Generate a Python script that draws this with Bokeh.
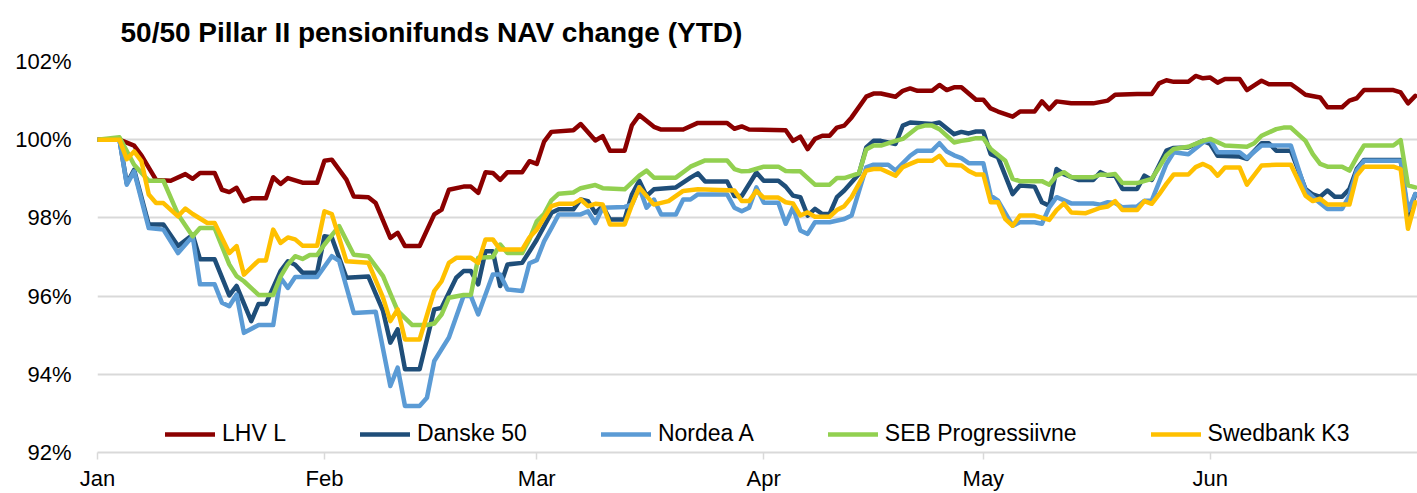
import pandas as pd
from bokeh.plotting import figure
from bokeh.models import (FixedTicker, DatetimeTickFormatter, PrintfTickFormatter,
                          Legend, LegendItem, Range1d)
from bokeh.embed import file_html
from bokeh.resources import INLINE

# ---------------- data (day offset from 2016-01-01, NAV index %) ----------------
lhv_days = [0,3,5,6,8,10,12,13,14,16,17,18,19,20,21,23,24,25,26,28,30,31,32,34,35,37,38,40,41,42,44,46,47,48,50,51,52,53,54,55,56,58,59,60,61,62,65,66,68,69,70,72,73,74,76,77,80,82,86,87,88,89,94,95,96,97,98,99,100,101,102,103,105,106,107,109,110,111,112,114,115,116,117,118,120,121,122,123,125,126,128,129,130,131,133,136,138,139,142,144,145,146,147,149,150,151,152,153,154,156,157,159,160,163,164,165,167,168,170,171,172,173,177,178,179,180]
lhv_vals = [100,100,99.85,99.6,98.97,98.95,99.12,99.0,99.15,99.15,98.72,98.66,98.77,98.43,98.5,98.5,99.04,98.87,99.02,98.9,98.9,99.46,99.49,98.98,98.55,98.53,98.38,97.49,97.62,97.28,97.28,98.09,98.21,98.72,98.8,98.8,98.64,99.17,99.15,98.97,99.17,99.17,99.45,99.38,99.95,100.2,100.24,100.4,99.98,100.09,99.72,99.72,100.37,100.63,100.33,100.26,100.26,100.43,100.43,100.28,100.34,100.26,100.24,99.97,100.08,99.76,100.02,100.1,100.1,100.31,100.36,100.57,101.1,101.18,101.18,101.1,101.25,101.31,101.25,101.25,101.4,101.27,101.34,101.34,101.02,101.02,100.8,100.72,100.59,100.72,100.72,100.98,100.78,100.98,100.93,100.93,101.0,101.15,101.17,101.17,101.44,101.52,101.48,101.48,101.63,101.57,101.59,101.46,101.55,101.55,101.27,101.51,101.42,101.42,101.29,101.15,101.08,100.83,100.83,101.0,101.06,101.27,101.27,101.21,100.93,101.12]

danske_days = [0,3,4,5,7,9,11,13,14,16,18,19,21,22,23,25,26,27,28,30,31,32,34,37,39,40,41,42,44,46,47,49,50,51,52,53,54,55,56,58,59,60,62,63,65,66,67,68,69,70,72,73,74,75,76,79,81,82,83,86,87,88,90,91,93,94,95,96,97,98,99,100,101,102,104,105,106,107,109,110,111,114,115,117,118,119,120,121,122,123,125,126,128,129,130,131,132,134,136,137,138,139,140,142,143,144,146,147,149,151,152,153,156,157,159,160,161,163,165,166,167,168,169,170,171,172,173,178,179,180]
danske_vals = [100,100,98.88,99.23,97.83,97.83,97.28,97.57,96.94,96.94,96.02,96.26,95.36,95.8,95.8,96.64,96.89,96.8,96.6,96.6,97.53,97.5,96.47,96.5,95.62,94.81,95.15,94.13,94.13,95.66,95.7,96.47,96.64,96.64,96.3,97.15,97.15,96.26,96.81,96.85,97.14,97.44,98.13,98.22,98.22,98.47,98.43,98.13,98.3,97.96,97.96,98.6,98.95,98.56,98.73,98.78,99.03,99.14,98.93,98.93,98.56,98.56,99.16,98.95,98.95,98.8,98.57,98.53,98.06,98.23,98.1,98.1,98.53,98.7,99.12,99.8,99.97,99.97,99.89,100.36,100.44,100.4,100.44,100.14,100.2,100.16,100.21,100.21,99.63,99.55,98.61,98.83,98.8,98.4,98.31,99.25,99.12,98.97,98.97,99.17,99.08,99.08,98.74,98.74,99.08,98.97,99.72,99.79,99.8,99.97,99.89,99.59,99.57,99.51,99.91,99.91,99.72,99.72,98.74,98.6,98.54,98.7,98.54,98.54,98.74,99.25,99.48,99.48,98.02,98.61]

nordea_days = [0,3,4,5,7,9,11,13,14,16,17,18,19,20,22,24,25,26,27,30,32,33,35,38,40,41,42,44,45,46,48,50,51,52,54,55,56,58,59,60,61,62,63,66,67,68,69,72,73,74,75,76,77,79,80,81,82,86,87,88,89,90,91,93,94,95,96,97,98,100,102,103,105,106,108,109,111,112,114,115,116,117,118,119,121,122,123,125,126,128,129,130,131,133,136,137,138,139,140,142,143,144,146,147,149,151,152,153,156,157,159,163,165,166,168,170,171,172,173,178,179,180]
nordea_vals = [100,100,98.85,99.19,97.74,97.7,97.1,97.53,96.3,96.3,95.83,95.74,96.04,95.06,95.26,95.26,96.47,96.21,96.49,96.49,97.02,96.9,95.57,95.6,93.7,94.17,93.19,93.19,93.4,94.34,94.94,96.0,96.0,95.53,96.55,96.55,96.17,96.13,96.84,96.92,97.4,97.74,98.09,98.09,98.17,97.87,98.26,98.28,98.34,98.78,98.26,98.47,98.09,98.09,98.47,98.47,98.6,98.6,98.26,98.17,98.26,98.78,98.39,98.39,97.85,98.27,97.68,97.59,97.89,97.89,97.97,98.06,99.29,99.36,99.36,99.21,99.59,99.72,99.72,99.91,99.7,99.6,99.53,99.4,99.4,98.57,98.44,97.8,97.89,97.89,97.85,98.27,98.53,98.37,98.37,98.34,98.4,98.38,98.27,98.29,98.44,98.44,99.38,99.68,99.63,99.93,99.99,99.68,99.68,99.53,99.85,99.85,98.7,98.53,98.23,98.23,98.57,99.21,99.46,99.46,98.19,98.61]

seb_days = [0,3,5,7,9,11,13,14,16,18,19,20,22,24,25,26,27,28,29,30,31,33,35,37,39,41,43,45,46,47,48,50,51,52,54,55,56,58,59,60,61,62,63,65,66,68,69,72,74,75,76,79,81,83,86,87,88,89,91,93,94,95,96,98,100,101,102,104,105,106,107,109,110,112,113,114,115,117,118,119,120,121,122,124,125,126,129,130,131,132,133,136,137,138,139,140,142,144,145,146,147,149,151,152,154,157,158,159,161,162,163,165,166,167,168,170,171,172,173,177,178,179,180]
seb_vals = [100,100.06,99.36,98.95,98.95,98.09,97.53,97.74,97.74,96.81,96.51,96.38,96.03,96.03,96.5,96.81,97.02,96.95,97.05,97.05,97.32,97.79,97.06,97.02,96.51,95.62,95.26,95.26,95.3,95.53,95.96,96.03,96.03,96.98,97.0,97.32,97.1,97.1,97.45,97.91,98.1,98.45,98.62,98.65,98.76,98.84,98.76,98.73,99.08,99.21,99.03,99.03,99.31,99.47,99.47,99.25,99.19,99.2,99.31,99.31,99.2,99.19,99.19,98.85,98.85,99.02,99.02,99.14,99.75,99.85,99.85,99.97,100.02,100.31,100.36,100.36,100.27,99.93,99.97,100.0,100.04,100.04,99.76,99.46,99.0,98.94,98.94,98.85,99.08,99.17,99.04,99.04,99.11,99.1,99.12,98.89,98.89,99.0,99.29,99.6,99.76,99.82,99.97,100.02,99.85,99.82,99.91,100.1,100.27,100.31,100.31,99.97,99.63,99.38,99.31,99.31,99.21,99.55,99.85,99.85,99.99,98.83,98.78]

swed_days = [0,3,4,5,6,7,8,9,11,12,13,15,16,18,19,20,22,23,24,25,26,27,28,30,31,32,34,37,39,40,41,42,44,46,47,48,49,51,52,53,54,55,58,59,60,61,62,63,65,66,67,68,69,70,72,73,74,76,78,80,82,87,88,89,90,91,93,94,95,96,97,98,100,101,102,103,105,106,107,109,110,111,112,114,115,116,118,119,120,121,122,123,124,125,126,128,130,131,132,133,135,137,138,139,140,142,143,144,145,146,147,149,150,151,152,153,154,156,157,159,161,163,165,166,167,168,171,172,173,177,178,179,180]
swed_vals = [100,100,99.5,99.7,99.45,98.6,98.38,98.38,98.04,98.24,98.1,97.87,97.87,97.1,97.28,96.55,96.91,96.91,97.7,97.36,97.5,97.45,97.29,97.29,98.17,98.1,96.89,96.85,95.96,95.36,95.66,94.89,94.89,96.13,96.38,96.85,96.98,96.98,96.85,97.45,97.45,97.19,97.19,97.5,97.7,98.0,98.3,98.36,98.36,98.47,98.3,98.36,98.34,97.83,97.83,98.34,98.78,98.34,98.43,98.69,98.73,98.7,98.43,98.43,98.69,98.52,98.52,98.4,98.37,98.06,98.14,98.03,98.03,98.2,98.3,98.53,99.21,99.25,99.25,99.08,99.3,99.38,99.46,99.46,99.59,99.36,99.34,99.2,99.11,99.11,98.4,98.4,97.97,97.8,98.06,98.06,97.95,98.2,98.37,98.14,98.12,98.26,98.29,98.43,98.2,98.2,98.43,98.36,98.6,98.87,99.11,99.11,99.3,99.38,99.29,99.08,99.29,99.29,98.85,99.34,99.36,99.36,98.57,98.43,98.49,98.34,98.34,99.08,99.31,99.31,99.25,97.72,98.4]

series_names = ["LHV L", "Danske 50", "Nordea A", "SEB Progressiivne", "Swedbank K3"]
series_colors = ["#8B0000", "#1F4E79", "#5B9BD5", "#92D050", "#FFC000"]
series_days = [lhv_days, danske_days, nordea_days, seb_days, swed_days]
series_vals = [lhv_vals, danske_vals, nordea_vals, seb_vals, swed_vals]

month_starts = ["2016-01-01", "2016-02-01", "2016-03-01", "2016-04-01", "2016-05-01", "2016-06-01"]
y_ticks = [92, 94, 96, 98, 100, 102]
title_text = "50/50 Pillar II pensionifunds NAV change (YTD)"

# ---------------- figure ----------------
base = pd.Timestamp("2016-01-01")
x_start = base
x_end = base + pd.Timedelta(days=180.3)

FONT = "Liberation Sans"
p = figure(width=1417, height=493, x_axis_type="datetime",
           x_range=Range1d(x_start, x_end), y_range=Range1d(92, 102),
           output_backend="svg", toolbar_location=None,
           min_border_left=97, min_border_right=0, min_border_top=61, min_border_bottom=40)
p.outline_line_color = None
p.background_fill_color = "white"

p.title.text = title_text
p.title.text_font = FONT
p.title.text_font_size = "28px"
p.title.text_font_style = "bold"
p.title.text_color = "black"
p.title.align = "left"
p.title.offset = 23
p.title.standoff = 27

# axes
xa = p.xaxis[0]
xa.ticker = FixedTicker(ticks=[pd.Timestamp(m).value / 1e6 for m in month_starts])
xa.formatter = DatetimeTickFormatter(days="%b", months="%b", years="%b", hours="%b",
                                     minutes="%b", seconds="%b", milliseconds="%b",
                                     microseconds="%b", context=None)
xa.axis_line_color = "#d9d9d9"
xa.axis_line_width = 2
xa.major_tick_line_color = "#d9d9d9"
xa.major_tick_line_width = 1.5
xa.major_tick_in = 0
xa.major_tick_out = 7
xa.minor_tick_line_color = None
xa.major_label_text_font = FONT
xa.major_label_text_font_size = "22px"
xa.major_label_text_color = "black"
xa.major_label_standoff = 6

ya = p.yaxis[0]
ya.ticker = FixedTicker(ticks=y_ticks)
ya.formatter = PrintfTickFormatter(format="%d%%")
ya.axis_line_color = None
ya.major_tick_line_color = None
ya.minor_tick_line_color = None
ya.major_label_text_font = FONT
ya.major_label_text_font_size = "22px"
ya.major_label_text_color = "black"
ya.major_label_standoff = 20

p.xgrid.grid_line_color = None
p.ygrid.ticker = FixedTicker(ticks=y_ticks)
p.ygrid.grid_line_color = "#d9d9d9"
p.ygrid.grid_line_width = 2

items = []
for name, color, days, vals in zip(series_names, series_colors, series_days, series_vals):
    xs = [base + pd.Timedelta(days=d) for d in days]
    r = p.line(xs, vals, line_color=color, line_width=4.5, line_join="round", line_cap="round")
    items.append(LegendItem(label=name, renderers=[r]))

legend = Legend(items=items, orientation="horizontal", location=(68, 5),
                glyph_width=50, glyph_height=20, label_standoff=7, spacing=74,
                padding=0, margin=0, border_line_color=None, background_fill_alpha=0,
                label_text_font=FONT, label_text_font_size="23px", label_text_color="black")
p.add_layout(legend, "center")

open("out.html", "w").write(file_html(p, INLINE))
